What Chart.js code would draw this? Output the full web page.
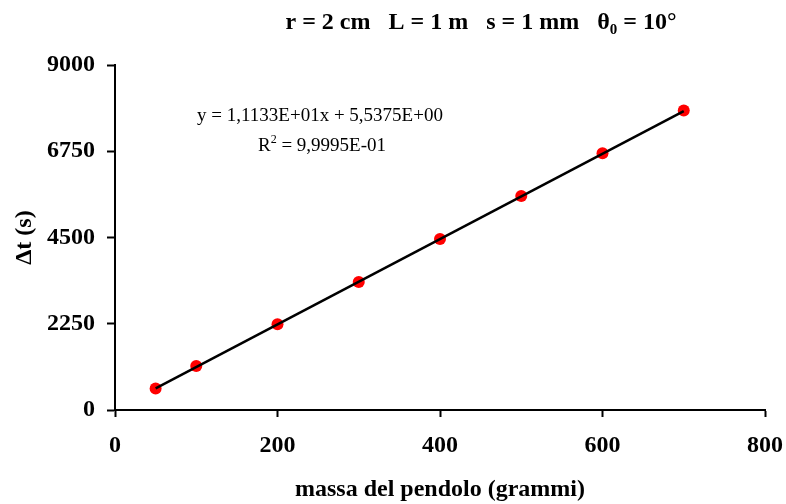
<!DOCTYPE html>
<html>
<head>
<meta charset="utf-8">
<script src="https://cdn.jsdelivr.net/npm/chart.js@4/dist/chart.umd.min.js"></script>
<style>
  html, body { margin: 0; padding: 0; background: #fff; }
</style>
</head>
<body>
<canvas id="chart" width="786" height="504"></canvas>
<script>
// ── Daten ──────────────────────────────────────────────────────────────────
const masses  = [50, 100, 200, 300, 400, 500, 600, 700];        // grammi
const times   = [560, 1150, 2240, 3340, 4460, 5580, 6700, 7810]; // Δt (s)
const trendX  = [50, 700];
const trendY  = [562, 7799];
const xTicks  = [0, 200, 400, 600, 800];
const yTicks  = [0, 2250, 4500, 6750, 9000];

const SERIF = "'Liberation Serif', 'Times New Roman', serif";

// Zeichnet eine Folge von Textstücken (für Index/Exponent) zentriert um cx
function drawRuns(ctx, runs, cx, baseY) {
  let total = 0;
  runs.forEach(r => {
    ctx.font = `${r.weight} ${r.size}px ${SERIF}`;
    r.w = ctx.measureText(r.text).width;
    total += r.w;
  });
  let x = cx - total / 2;
  runs.forEach(r => {
    ctx.font = `${r.weight} ${r.size}px ${SERIF}`;
    ctx.fillText(r.text, x, baseY + (r.dy || 0));
    x += r.w;
  });
}

const textPlugin = {
  id: 'texts',
  afterDraw(chart) {
    const ctx = chart.ctx;
    ctx.save();
    ctx.fillStyle = '#000';
    ctx.textAlign = 'left';
    ctx.textBaseline = 'alphabetic';

    drawRuns(ctx, [
      { text: 'r = 2 cm   L = 1 m   s = 1 mm   θ', size: 24, weight: 'bold' },
      { text: '0', size: 15, weight: 'bold', dy: 5 },
      { text: ' = 10°', size: 24, weight: 'bold' },
    ], 481, 29);

    drawRuns(ctx, [
      { text: 'y = 1,1133E+01x + 5,5375E+00', size: 19, weight: 'normal' },
    ], 320, 121);

    drawRuns(ctx, [
      { text: 'R', size: 19, weight: 'normal' },
      { text: '2', size: 12, weight: 'normal', dy: -8 },
      { text: ' = 9,9995E-01', size: 19, weight: 'normal' },
    ], 322, 151);

    ctx.restore();
  },
};

const axisFont = { family: SERIF, size: 24, weight: 'bold' };

new Chart(document.getElementById('chart'), {
  type: 'scatter',
  data: {
    datasets: [
      {
        data: trendX.map((x, i) => ({ x, y: trendY[i] })),
        showLine: true, borderColor: '#000', borderWidth: 2.5,
        pointRadius: 0, order: 0,
      },
      {
        data: masses.map((x, i) => ({ x, y: times[i] })),
        pointBackgroundColor: '#ff0000', pointBorderWidth: 0,
        pointRadius: 6, order: 1,
      },
    ],
  },
  options: {
    responsive: false, animation: false,
    layout: { padding: { top: 65, right: 21, bottom: 0, left: 0 } },
    plugins: { legend: { display: false }, tooltip: { enabled: false } },
    scales: {
      x: {
        type: 'linear', min: 0, max: 800,
        afterBuildTicks: s => { s.ticks = xTicks.map(v => ({ value: v })); },
        afterFit: s => { s.height = 94; s.paddingRight = 0; s.paddingLeft = 0; },
        grid: { drawOnChartArea: false, drawTicks: true, tickLength: 7, tickColor: '#000', tickWidth: 2 },
        border: { display: true, color: '#000', width: 2 },
        ticks: { color: '#000', font: axisFont, padding: 14, maxRotation: 0 },
        title: { display: true, text: 'massa del pendolo (grammi)', color: '#000', font: axisFont, padding: { top: 0, bottom: 0 } },
      },
      y: {
        type: 'linear', min: 0, max: 9000,
        afterBuildTicks: s => { s.ticks = yTicks.map(v => ({ value: v })); },
        afterFit: s => { s.width = 115; },
        grid: { drawOnChartArea: false, drawTicks: true, tickLength: 8, tickColor: '#000', tickWidth: 2 },
        border: { display: true, color: '#000', width: 2 },
        ticks: { color: '#000', font: axisFont, padding: 12, callback: v => String(v) },
        title: { display: true, text: 'Δt (s)', color: '#000', font: axisFont, padding: { top: 10, bottom: 0 } },
      },
    },
  },
  plugins: [textPlugin],
});
</script>
</body>
</html>
